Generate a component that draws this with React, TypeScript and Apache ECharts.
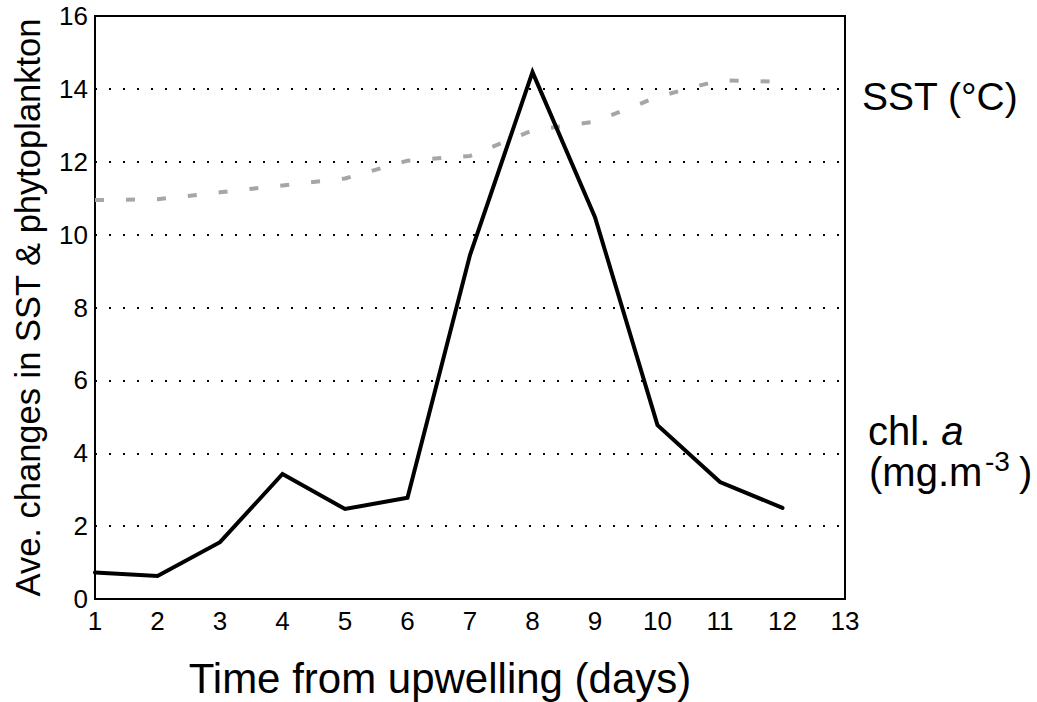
import React, { useEffect, useRef } from "react";
import * as echarts from "echarts";

const days = [1, 2, 3, 4, 5, 6, 7, 8, 9, 10, 11, 12];
const sst = [10.95, 10.97, 11.16, 11.35, 11.54, 12.03, 12.16, 12.86, 13.1, 13.78, 14.24, 14.19];
const chl = [0.73, 0.63, 1.56, 3.43, 2.47, 2.78, 9.44, 14.46, 10.48, 4.77, 3.21, 2.5];
const xTicks = [1, 2, 3, 4, 5, 6, 7, 8, 9, 10, 11, 12, 13];
const yTicks = [0, 2, 4, 6, 8, 10, 12, 14, 16];

const FONT = "'Liberation Sans', Arial, Helvetica, sans-serif";

export default function App() {
  const ref = useRef<HTMLDivElement>(null);
  useEffect(() => {
    if (!ref.current) return;
    const chart = echarts.init(ref.current, undefined, { renderer: "svg" });
    chart.setOption({
      animation: false,
      backgroundColor: "#ffffff",
      grid: {
        left: 95,
        right: 192,
        top: 16,
        bottom: 103,
        show: true,
        borderColor: "#000",
        borderWidth: 2,
        backgroundColor: "transparent",
      },
      xAxis: {
        type: "value",
        min: xTicks[0],
        max: xTicks[xTicks.length - 1],
        interval: 1,
        axisLine: { show: true, lineStyle: { color: "#000", width: 2 } },
        axisTick: { show: false },
        splitLine: { show: false },
        axisLabel: { fontFamily: FONT, fontSize: 26, color: "#000", margin: 9 },
      },
      yAxis: {
        type: "value",
        min: yTicks[0],
        max: yTicks[yTicks.length - 1],
        interval: 2,
        name: "Ave. changes in SST & phytoplankton",
        nameLocation: "middle",
        nameGap: 50,
        nameTextStyle: { fontFamily: FONT, fontSize: 34.5, color: "#000" },
        axisLine: { show: true, lineStyle: { color: "#000", width: 2 } },
        axisTick: { show: false },
        splitLine: {
          show: true,
          showMinLine: false,
          showMaxLine: false,
          lineStyle: { color: "#000", width: 2, type: [2, 12], dashOffset: -14 },
        },
        axisLabel: { fontFamily: FONT, fontSize: 26, color: "#000", margin: 7 },
      },
      series: [
        {
          name: "SST",
          type: "line",
          data: days.map((d, i) => [d, sst[i]]),
          showSymbol: false,
          lineStyle: { color: "#a6a6a6", width: 4, type: [9, 22] },
          z: 2,
        },
        {
          name: "chl a",
          type: "line",
          data: days.map((d, i) => [d, chl[i]]),
          showSymbol: false,
          lineStyle: { color: "#000", width: 4, cap: "round", join: "miter" },
          z: 3,
        },
      ],
      graphic: [
        {
          type: "text",
          x: 440,
          y: 678,
          style: {
            text: "Time from upwelling (days)",
            font: `42px ${FONT}`,
            fill: "#000",
            align: "center",
            verticalAlign: "middle",
          },
        },
        {
          type: "text",
          left: 862,
          top: 77,
          style: { text: "SST (°C)", font: `39px ${FONT}`, fill: "#000" },
        },
        {
          type: "text",
          left: 868,
          top: 411,
          style: {
            text: "chl. {i|a}",
            font: `40px ${FONT}`,
            fill: "#000",
            rich: { i: { fontFamily: FONT, fontSize: 40, fontStyle: "italic" } },
          },
        },
        {
          type: "text",
          left: 869,
          top: 452,
          style: { text: "(mg.m", font: `40px ${FONT}`, fill: "#000" },
        },
        {
          type: "text",
          left: 985,
          top: 447,
          style: { text: "-3", font: `28px ${FONT}`, fill: "#000" },
        },
        {
          type: "text",
          left: 1019,
          top: 452,
          style: { text: ")", font: `40px ${FONT}`, fill: "#000" },
        },
      ],
    });
    return () => chart.dispose();
  }, []);
  return (
    <div
      ref={ref}
      style={{ position: "absolute", left: 0, top: 0, width: 1037, height: 702 }}
    />
  );
}
